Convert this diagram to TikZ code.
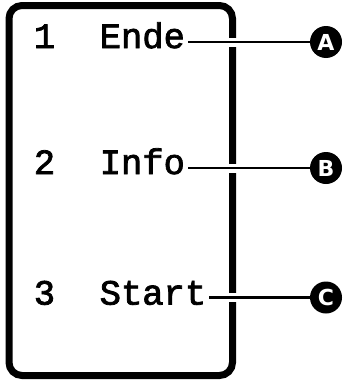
\documentclass[tikz,border=0pt]{standalone}
\usepackage{fontspec}
\newfontfamily\monofont[FakeBold=2.2]{Liberation Mono}
\newfontfamily\tagfont{DejaVu Sans}
\begin{document}
\begin{tikzpicture}[x=1pt,y=-1pt,
  entry/.style={inner sep=0pt,anchor=base west,font=\monofont\fontsize{35.5}{35.5}\selectfont},
  num/.style={inner sep=0pt,anchor=base,font=\monofont\fontsize{35.5}{35.5}\selectfont},
  tag/.style={circle,fill=black,text=white,minimum size=32pt,inner sep=0pt,font=\tagfont\bfseries\fontsize{22}{22}\selectfont},
  lead/.style={line width=2.5pt,preaction={draw=white,line width=9pt}}]
\useasboundingbox (0,0) rectangle (344,380);
\draw[line width=7pt,rounded corners=13pt] (9,5.5) rectangle (232.5,375.5);
\node[num] (n1) at (44.5,48) {1};
\node[num] (n2) at (44.5,174) {2};
\node[num] (n3) at (44.5,304.6) {3};
\node[entry] (e1) at (99.5,48) {Ende};
\node[entry] (e2) at (99.5,174) {Info};
\node[entry] (e3) at (99.5,304.6) {Start};
\coordinate (A) at (326,42);
\coordinate (B) at (326,168);
\coordinate (C) at (326,297.5);
\draw[lead] ([xshift=3pt]e1.east |- A) -- ([xshift=-14pt]A);
\draw[lead] ([xshift=3pt]e2.east |- B) -- ([xshift=-14pt]B);
\draw[lead] ([xshift=3pt]e3.east |- C) -- ([xshift=-14pt]C);
\node[tag] (tA) at (A) {A};
\node[tag] (tB) at (B) {B};
\node[tag] (tC) at (C) {C};
\end{tikzpicture}
\end{document}
